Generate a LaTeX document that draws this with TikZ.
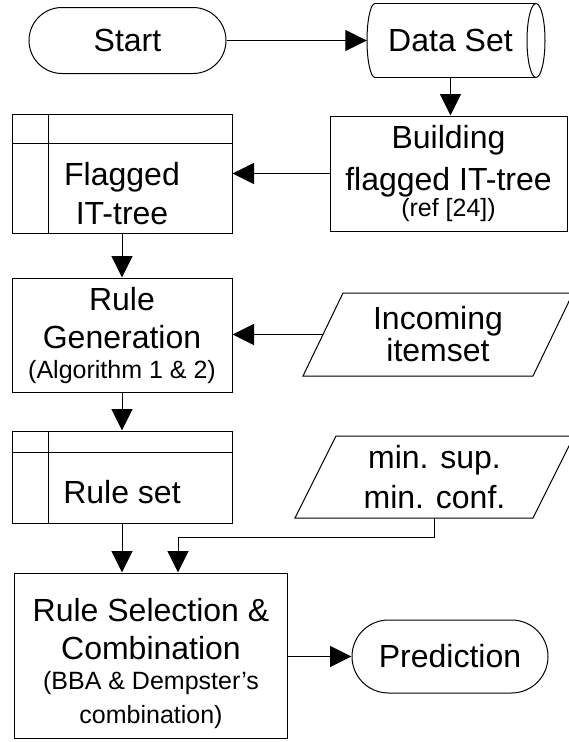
\documentclass[tikz,border=0pt]{standalone}
\usepackage{fontspec}
\setmainfont{Liberation Sans}
\usetikzlibrary{arrows.meta,calc}
\newcommand\bigf{\fontsize{32}{38}\selectfont}
\newcommand\smallf{\fontsize{25}{30}\selectfont}
\tikzset{
  ln/.style={line width=1pt, draw=black},
  arr/.style={ln, -{Triangle[length=21.5pt,width=21pt]}},
  procbox/.style={ln, draw, rectangle, inner sep=0pt, align=center, font=\bigf},
  termbox/.style={ln, draw, rectangle, inner sep=0pt, align=center, font=\bigf},
  txtbox/.style={rectangle, inner sep=0pt, align=center, font=\bigf},
}
\begin{document}
\begin{tikzpicture}[x=1pt,y=-1pt]
\useasboundingbox (0,0) rectangle (568,742);

% Start terminal
\node[termbox, rounded corners=33pt, minimum width=197pt, minimum height=66pt] (start) at (127.5,40.5) {Start};

% Data Set (stored data, cylinder)
\node[txtbox, minimum width=167pt, minimum height=74pt] (ds) at (450.5,40.5) {Data Set};
\draw[ln] (375,3.5) -- (536,3.5);
\draw[ln] (375,77.5) -- (536,77.5);
\draw[ln] (536,40.5) ellipse [x radius=9, y radius=37];
\draw[ln] (375,3.5) arc[start angle=270, end angle=90, x radius=8, y radius=37];

% Building flagged IT-tree
\node[procbox, minimum width=237pt, minimum height=115pt] (build) at (448.5,173.5)
  {Building\\[4pt]flagged IT-tree\\[-12pt]{\smallf (ref [24])}};

% Flagged IT-tree (internal storage)
\node[procbox, minimum width=220pt, minimum height=119pt] (flag) at (122,173.5)
  {\rule{0pt}{63pt}Flagged\\[1pt]IT-tree};
\draw[ln] ($(flag.north west)+(37,0)$) -- ($(flag.south west)+(37,0)$);
\draw[ln] ($(flag.north west)+(0,30)$) -- ($(flag.north east)+(0,30)$);

% Rule Generation
\node[procbox, minimum width=220pt, minimum height=114pt] (rg) at (122,335)
  {Rule\\Generation\\[-8pt]{\smallf (Algorithm 1 \& 2)}};

% Incoming itemset (data)
\node[txtbox, minimum width=230pt, minimum height=83pt] (inc) at (438,334.5)
  {Incoming\\[-6pt]itemset};
\draw[ln] (303,376) -- (343,293) -- (573,293) -- (533,376) -- cycle;

% Rule set (internal storage)
\node[procbox, minimum width=220pt, minimum height=92pt] (rs) at (122,477)
  {\rule{0pt}{53pt}Rule set};
\draw[ln] ($(rs.north west)+(37,0)$) -- ($(rs.south west)+(37,0)$);
\draw[ln] ($(rs.north west)+(0,22)$) -- ($(rs.north east)+(0,22)$);

% min. sup. / min. conf. (data)
\node[txtbox, minimum width=238pt, minimum height=82pt] (ms) at (434.5,477)
  {min. sup.\\[2pt]min. conf.};
\draw[ln] (295,518) -- (336,436) -- (574,436) -- (533,518) -- cycle;

% Rule Selection & Combination
\node[procbox, minimum width=273pt, minimum height=165pt] (sel) at (151,655.5)
  {\rule{0pt}{39pt}Rule Selection \&\\Combination\\[-8pt]{\smallf (BBA \& Dempster's}\\[-4pt]{\smallf combination)}};

% Prediction terminal
\node[termbox, rounded corners=36.5pt, minimum width=196pt, minimum height=73pt] (pred) at (450,656.5) {Prediction};

% connectors
\draw[arr] (start.east) -- (ds.west);
\draw[arr] (ds.south) -- (ds.south |- build.north);
\draw[arr] (build.west) -- (flag.east |- build.west);
\draw[arr] (flag.south) -- (rg.north);
\draw[arr] (inc.west) -- (rg.east |- inc.west);
\draw[arr] (rg.south) -- (rs.north);
\draw[arr] (rs.south) -- (sel.north -| rs.south);
\coordinate (turn) at (178,537);
\draw[arr] (ms.south) |- (turn) -- (turn |- sel.north);
\draw[arr] (sel.east |- pred.west) -- (pred.west);
\end{tikzpicture}
\end{document}
